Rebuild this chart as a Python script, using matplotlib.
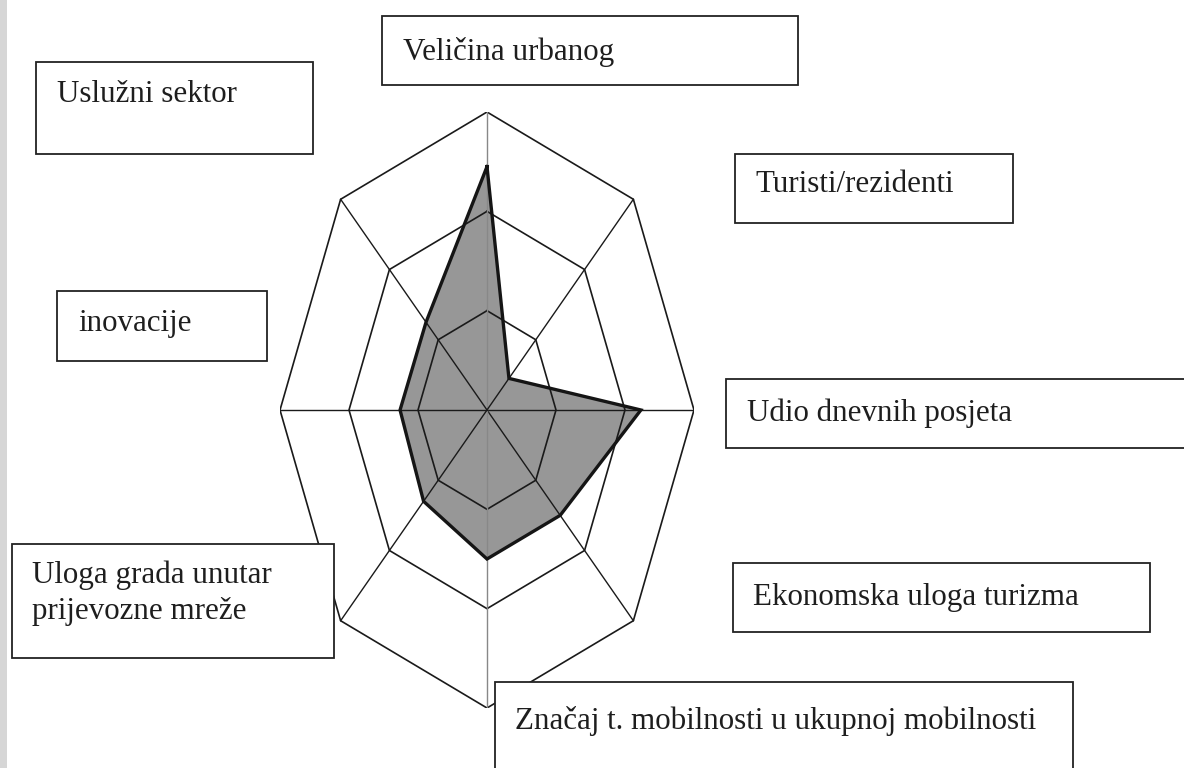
import numpy as np
import matplotlib.pyplot as plt
from matplotlib.patches import Rectangle

# axes of the radar, clockwise from the top
labels = ["Veličina urbanog", "Turisti/rezidenti", "Udio dnevnih posjeta",
          "Ekonomska uloga turizma", "Značaj t. mobilnosti u ukupnoj mobilnosti",
          "Uloga grada unutar\nprijevozne mreže", "inovacije", "Uslužni sektor"]
values = [2.45, 0.45, 2.23, 1.5, 1.5, 1.3, 1.26, 1.25]
rings = [1, 2, 3]

# label boxes in pixels: x0, y0, x1, y1, text x, text y
boxes = [(382, 16, 798, 85, 403, 52),
         (735, 154, 1013, 223, 755, 185),
         (726, 379, 1190, 448, 747, 413),
         (733, 563, 1150, 632, 753, 597),
         (495, 682, 1073, 775, 515, 721),
         (12, 544, 334, 658, 32, 593),
         (57, 291, 267, 361, 78, 324),
         (36, 62, 313, 154, 57, 94)]

plt.rcParams['font.family'] = ['Liberation Serif', 'DejaVu Serif']

fig = plt.figure(figsize=(11.84, 7.68), dpi=100)

# radar drawn on a stretched cartesian axes
ax = fig.add_axes([280 / 1184, 60 / 768, 414 / 1184, 596 / 768])
ax.set_xlim(-3, 3)
ax.set_ylim(-3, 3)
ax.axis('off')

n = len(labels)
theta = np.arange(n) * 2 * np.pi / n
th = np.append(theta, theta[0])
v = np.append(values, values[0])

ax.fill(v * np.sin(th), v * np.cos(th), color='#979797', zorder=1)

for r in rings:
    ax.plot(r * np.sin(th), r * np.cos(th), color='#1a1a1a', lw=1.2, zorder=2)
for i, t in enumerate(theta):
    col = '#888888' if i in (0, 4) else '#1a1a1a'
    ax.plot([0, rings[-1] * np.sin(t)], [0, rings[-1] * np.cos(t)],
            color=col, lw=1.0, zorder=2)

ax.plot(v * np.sin(th), v * np.cos(th), color='#151515', lw=2.4,
        solid_joinstyle='miter', zorder=3)

# overlay for label boxes in pixel units
ov = fig.add_axes([0, 0, 1, 1])
ov.set_xlim(0, 1184)
ov.set_ylim(768, 0)
ov.axis('off')
ov.patch.set_alpha(0)

ov.add_patch(Rectangle((0, 0), 7, 768, color='#d6d6d6', lw=0))
for lab, (x0, y0, x1, y1, tx, ty) in zip(labels, boxes):
    ov.add_patch(Rectangle((x0, y0), x1 - x0, y1 - y0, facecolor='white',
                           edgecolor='#222222', lw=1.3))
    ov.text(tx, ty, lab, fontsize=22.3, color='#1e1e1e', ha='left',
            va='center', linespacing=1.3)

fig.savefig('out.png', dpi=100)
